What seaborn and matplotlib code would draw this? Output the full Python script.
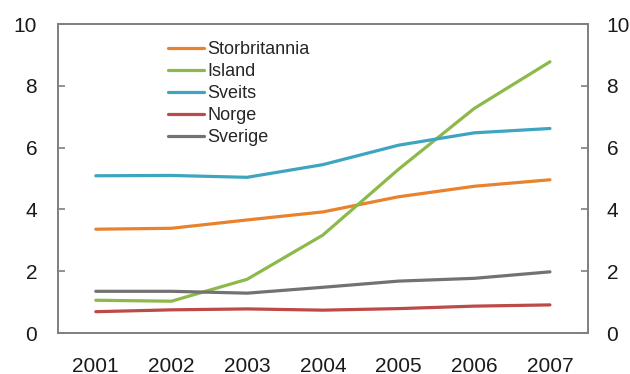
import matplotlib
matplotlib.use("Agg")
import matplotlib.pyplot as plt
import seaborn as sns
import pandas as pd

years = [2001, 2002, 2003, 2004, 2005, 2006, 2007]
storbritannia = [3.36, 3.39, 3.66, 3.92, 4.41, 4.75, 4.96]
island = [1.06, 1.03, 1.74, 3.17, 5.30, 7.27, 8.78]
sveits = [5.09, 5.10, 5.04, 5.45, 6.08, 6.48, 6.62]
norge = [0.69, 0.75, 0.78, 0.74, 0.79, 0.87, 0.91]
sverige = [1.35, 1.35, 1.29, 1.48, 1.68, 1.77, 1.98]

series_names = ["Storbritannia", "Island", "Sveits", "Norge", "Sverige"]
series_values = [storbritannia, island, sveits, norge, sverige]
colors = ["#E8822C", "#8DB84A", "#3EA5C1", "#BC4A47", "#727272"]
y_ticks = [0, 2, 4, 6, 8, 10]

rows = []
for name, vals in zip(series_names, series_values):
    for yr, v in zip(years, vals):
        rows.append({"year": yr, "value": v, "series": name})
df = pd.DataFrame(rows)

sns.set_style("white")
plt.rcParams["font.family"] = ["Liberation Sans", "DejaVu Sans"]

fig = plt.figure(figsize=(6.3, 3.74), dpi=100)
ax = fig.add_axes([0.092, 0.1096, 0.841, 0.826])

sns.lineplot(data=df, x="year", y="value", hue="series", hue_order=series_names,
             palette=colors, linewidth=2.3, ax=ax, legend=True)

ax.set_xlim(2000.5, 2007.5)
ax.set_ylim(0, 10)
ax.set_xlabel("")
ax.set_ylabel("")

text_color = "#1a1a1a"
spine_color = "#7f7f7f"
for s in ax.spines.values():
    s.set_color(spine_color)
    s.set_linewidth(1.4)

ax.set_xticks(years)
ax.set_xticklabels([str(y) for y in years])
ax.set_xticks([y + 0.5 for y in years[:-1]], minor=True)
ax.tick_params(axis="x", which="major", length=0, pad=17, labelsize=15, labelcolor=text_color)
ax.tick_params(axis="x", which="minor", direction="in", length=6, width=1.2, color=spine_color)

ax.set_yticks(y_ticks)
ax.set_yticklabels([str(t) for t in y_ticks])
ax.tick_params(axis="y", direction="in", length=5, width=1.2, color=spine_color,
               pad=15, labelsize=15, labelcolor=text_color)

ax2 = ax.twinx()
ax2.set_ylim(0, 10)
ax2.set_yticks(y_ticks)
ax2.set_yticklabels([str(t) for t in y_ticks])
ax2.tick_params(axis="y", direction="in", length=5, width=1.2, color=spine_color,
                pad=13.5, labelsize=15, labelcolor=text_color)
for s in ax2.spines.values():
    s.set_visible(False)

handles, labels = ax.get_legend_handles_labels()
ax.legend(handles, labels, loc="upper left", bbox_to_anchor=(0.2075, 0.945),
          frameon=False, fontsize=13, handlelength=2.0, handletextpad=0.2,
          labelspacing=0.28, borderaxespad=0, borderpad=0)

fig.savefig("out.png", dpi=100)
